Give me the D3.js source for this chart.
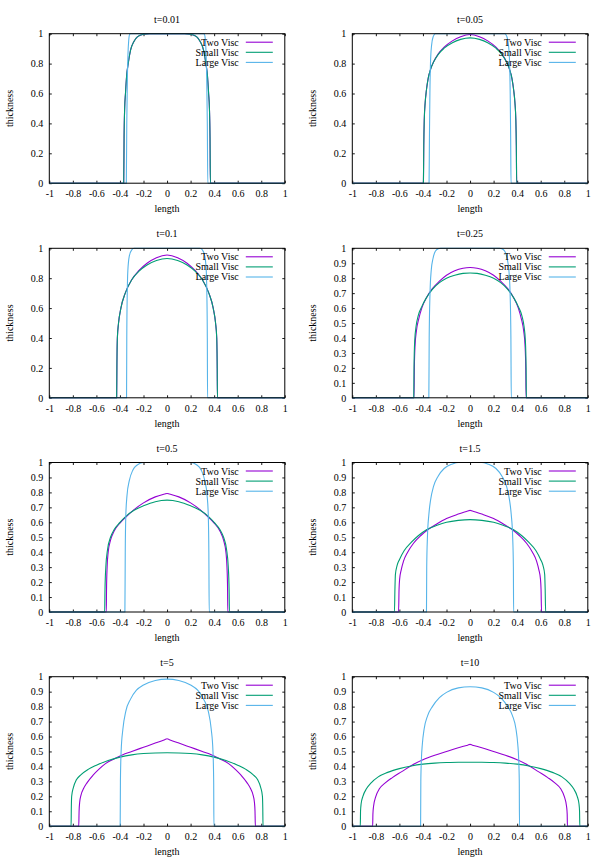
<!DOCTYPE html>
<html>
<head>
<meta charset="utf-8">
<script src="https://cdn.jsdelivr.net/npm/d3@7"></script>
<style>
  html, body { margin: 0; padding: 0; background: #ffffff; }
  svg { display: block; }
  text { font-family: "Liberation Serif", "Times New Roman", serif; font-size: 10px; fill: #000; }
</style>
</head>
<body>
<div id="chart"></div>
<script>
// ---------------- DATA ----------------
const times = ["0.01", "0.05", "0.1", "0.25", "0.5", "1.5", "5", "10"];
const seriesNames = ["Two Visc", "Small Visc", "Large Visc"];
const seriesColors = ["#9400D3", "#009E73", "#56B4E9"];
const xTickValues = [-1, -0.8, -0.6, -0.4, -0.2, 0, 0.2, 0.4, 0.6, 0.8, 1];
const xTickLabels = ["-1", "-0.8", "-0.6", "-0.4", "-0.2", "0", "0.2", "0.4", "0.6", "0.8", "1"];
const yTickCoarse = [0, 0.2, 0.4, 0.6, 0.8, 1];
const yTickCoarseLabels = ["0", "0.2", "0.4", "0.6", "0.8", "1"];
const yTickFine = [0, 0.1, 0.2, 0.3, 0.4, 0.5, 0.6, 0.7, 0.8, 0.9, 1];
const yTickFineLabels = ["0", "0.1", "0.2", "0.3", "0.4", "0.5", "0.6", "0.7", "0.8", "0.9", "1"];
const fineTickPanels = [false, false, false, true, true, true, true, true];

// t = 0.01
const t001_two = [[-1,0],[-0.368,0],[-0.365,0.3],[-0.36,0.5],[-0.353,0.6],[-0.343,0.72],[-0.33,0.8],[-0.31,0.89],[-0.28,0.95],[-0.25,0.98],[-0.2,0.996],[-0.15,1],[0.15,1],[0.2,0.996],[0.25,0.98],[0.28,0.95],[0.31,0.89],[0.33,0.8],[0.343,0.72],[0.353,0.6],[0.36,0.5],[0.365,0.3],[0.368,0],[1,0]];
const t001_small = [[-1,0],[-0.368,0],[-0.365,0.3],[-0.36,0.5],[-0.353,0.6],[-0.343,0.72],[-0.33,0.8],[-0.31,0.89],[-0.28,0.95],[-0.25,0.98],[-0.2,0.996],[-0.15,1],[0.15,1],[0.2,0.996],[0.25,0.98],[0.28,0.95],[0.31,0.89],[0.33,0.8],[0.343,0.72],[0.353,0.6],[0.36,0.5],[0.365,0.3],[0.368,0],[1,0]];
const t001_large = [[-1,0],[-0.346,0],[-0.342,0.4],[-0.337,0.7],[-0.332,0.86],[-0.325,0.96],[-0.318,0.995],[-0.31,1],[0.31,1],[0.318,0.995],[0.325,0.96],[0.332,0.86],[0.337,0.7],[0.342,0.4],[0.346,0],[1,0]];

// t = 0.05
const t005_two = [[-1,0],[-0.396,0],[-0.393,0.25],[-0.389,0.42],[-0.381,0.54],[-0.371,0.62],[-0.356,0.7],[-0.336,0.76],[-0.31,0.81],[-0.27,0.865],[-0.22,0.91],[-0.15,0.952],[-0.08,0.98],[0,0.995],[0.08,0.98],[0.15,0.952],[0.22,0.91],[0.27,0.865],[0.31,0.81],[0.336,0.76],[0.356,0.7],[0.371,0.62],[0.381,0.54],[0.389,0.42],[0.393,0.25],[0.396,0],[1,0]];
const t005_small = [[-1,0],[-0.396,0],[-0.393,0.25],[-0.389,0.42],[-0.381,0.54],[-0.371,0.62],[-0.356,0.7],[-0.336,0.76],[-0.31,0.81],[-0.27,0.862],[-0.22,0.903],[-0.15,0.94],[-0.08,0.962],[0,0.972],[0.08,0.962],[0.15,0.94],[0.22,0.903],[0.27,0.862],[0.31,0.81],[0.336,0.76],[0.356,0.7],[0.371,0.62],[0.381,0.54],[0.389,0.42],[0.393,0.25],[0.396,0],[1,0]];
const t005_large = [[-1,0],[-0.348,0],[-0.345,0.3],[-0.341,0.6],[-0.336,0.8],[-0.327,0.92],[-0.313,0.98],[-0.295,1],[0.295,1],[0.313,0.98],[0.327,0.92],[0.336,0.8],[0.341,0.6],[0.345,0.3],[0.348,0],[1,0]];

// t = 0.1
const t01_two = [[-1,0],[-0.428,0],[-0.426,0.2],[-0.422,0.4],[-0.412,0.5],[-0.392,0.6],[-0.355,0.7],[-0.3,0.79],[-0.24,0.85],[-0.17,0.9],[-0.09,0.937],[0,0.955],[0.09,0.937],[0.17,0.9],[0.24,0.85],[0.3,0.79],[0.355,0.7],[0.392,0.6],[0.412,0.5],[0.422,0.4],[0.426,0.2],[0.428,0],[1,0]];
const t01_small = [[-1,0],[-0.428,0],[-0.426,0.2],[-0.422,0.4],[-0.412,0.5],[-0.392,0.6],[-0.355,0.7],[-0.3,0.79],[-0.24,0.845],[-0.17,0.888],[-0.09,0.918],[0,0.932],[0.09,0.918],[0.17,0.888],[0.24,0.845],[0.3,0.79],[0.355,0.7],[0.392,0.6],[0.412,0.5],[0.422,0.4],[0.426,0.2],[0.428,0],[1,0]];
const t01_large = [[-1,0],[-0.344,0],[-0.342,0.4],[-0.338,0.7],[-0.333,0.85],[-0.32,0.95],[-0.3,0.99],[-0.28,1],[0.28,1],[0.3,0.99],[0.32,0.95],[0.333,0.85],[0.338,0.7],[0.342,0.4],[0.344,0],[1,0]];

// t = 0.25
const t025_two = [[-1,0],[-0.476,0],[-0.473,0.2],[-0.467,0.35],[-0.455,0.45],[-0.435,0.53],[-0.41,0.6],[-0.37,0.67],[-0.32,0.73],[-0.26,0.78],[-0.2,0.82],[-0.13,0.85],[-0.06,0.867],[0,0.872],[0.06,0.867],[0.13,0.85],[0.2,0.82],[0.26,0.78],[0.32,0.73],[0.37,0.67],[0.41,0.6],[0.435,0.53],[0.455,0.45],[0.467,0.35],[0.473,0.2],[0.476,0],[1,0]];
const t025_small = [[-1,0],[-0.478,0],[-0.476,0.2],[-0.47,0.38],[-0.458,0.48],[-0.44,0.55],[-0.41,0.61],[-0.37,0.67],[-0.32,0.725],[-0.26,0.77],[-0.2,0.8],[-0.13,0.82],[-0.06,0.832],[0,0.835],[0.06,0.832],[0.13,0.82],[0.2,0.8],[0.26,0.77],[0.32,0.725],[0.37,0.67],[0.41,0.61],[0.44,0.55],[0.458,0.48],[0.47,0.38],[0.476,0.2],[0.478,0],[1,0]];
const t025_large = [[-1,0],[-0.35,0],[-0.347,0.4],[-0.34,0.7],[-0.33,0.85],[-0.315,0.93],[-0.295,0.98],[-0.27,0.997],[-0.25,1],[0.25,1],[0.27,0.997],[0.295,0.98],[0.315,0.93],[0.33,0.85],[0.34,0.7],[0.347,0.4],[0.35,0],[1,0]];

// t = 0.5
const t05_two = [[-1,0],[-0.516,0],[-0.514,0.15],[-0.509,0.3],[-0.5,0.4],[-0.48,0.48],[-0.45,0.54],[-0.4,0.595],[-0.35,0.635],[-0.28,0.685],[-0.2,0.73],[-0.1,0.77],[-0.02,0.789],[0,0.793],[0.02,0.789],[0.1,0.77],[0.2,0.73],[0.28,0.685],[0.35,0.635],[0.4,0.595],[0.45,0.54],[0.48,0.48],[0.5,0.4],[0.509,0.3],[0.514,0.15],[0.516,0],[1,0]];
const t05_small = [[-1,0],[-0.53,0],[-0.527,0.15],[-0.52,0.3],[-0.505,0.42],[-0.48,0.5],[-0.45,0.55],[-0.4,0.6],[-0.35,0.64],[-0.28,0.68],[-0.2,0.71],[-0.1,0.738],[0,0.748],[0.1,0.738],[0.2,0.71],[0.28,0.68],[0.35,0.64],[0.4,0.6],[0.45,0.55],[0.48,0.5],[0.505,0.42],[0.52,0.3],[0.527,0.15],[0.53,0],[1,0]];
const t05_large = [[-1,0],[-0.358,0],[-0.355,0.4],[-0.35,0.65],[-0.34,0.78],[-0.32,0.88],[-0.29,0.95],[-0.25,0.985],[-0.2,1],[0.2,1],[0.25,0.985],[0.29,0.95],[0.32,0.88],[0.34,0.78],[0.35,0.65],[0.355,0.4],[0.358,0],[1,0]];

// t = 1.5
const t15_two = [[-1,0],[-0.607,0],[-0.603,0.15],[-0.598,0.22],[-0.585,0.28],[-0.565,0.34],[-0.53,0.4],[-0.48,0.46],[-0.42,0.51],[-0.36,0.55],[-0.28,0.59],[-0.2,0.625],[-0.1,0.655],[-0.02,0.675],[0,0.68],[0.02,0.675],[0.1,0.655],[0.2,0.625],[0.28,0.59],[0.36,0.55],[0.42,0.51],[0.48,0.46],[0.53,0.4],[0.565,0.34],[0.585,0.28],[0.598,0.22],[0.603,0.15],[0.607,0],[1,0]];
const t15_small = [[-1,0],[-0.642,0],[-0.638,0.15],[-0.634,0.25],[-0.62,0.31],[-0.6,0.35],[-0.56,0.41],[-0.5,0.465],[-0.44,0.51],[-0.37,0.55],[-0.28,0.58],[-0.2,0.6],[-0.1,0.613],[0,0.618],[0.1,0.613],[0.2,0.6],[0.28,0.58],[0.37,0.55],[0.44,0.51],[0.5,0.465],[0.56,0.41],[0.6,0.35],[0.62,0.31],[0.634,0.25],[0.638,0.15],[0.642,0],[1,0]];
const t15_large = [[-1,0],[-0.37,0],[-0.368,0.3],[-0.362,0.5],[-0.35,0.65],[-0.335,0.75],[-0.31,0.84],[-0.27,0.91],[-0.22,0.96],[-0.15,0.99],[-0.1,1],[0.1,1],[0.15,0.99],[0.22,0.96],[0.27,0.91],[0.31,0.84],[0.335,0.75],[0.35,0.65],[0.362,0.5],[0.368,0.3],[0.37,0],[1,0]];

// t = 5
const t5_two = [[-1,0],[-0.75,0],[-0.747,0.1],[-0.742,0.16],[-0.73,0.21],[-0.71,0.25],[-0.68,0.29],[-0.63,0.34],[-0.58,0.38],[-0.52,0.42],[-0.45,0.45],[-0.38,0.477],[-0.3,0.5],[-0.2,0.528],[-0.1,0.556],[-0.02,0.579],[0,0.585],[0.02,0.579],[0.1,0.556],[0.2,0.528],[0.3,0.5],[0.38,0.477],[0.45,0.45],[0.52,0.42],[0.58,0.38],[0.63,0.34],[0.68,0.29],[0.71,0.25],[0.73,0.21],[0.742,0.16],[0.747,0.1],[0.75,0],[1,0]];
const t5_small = [[-1,0],[-0.815,0],[-0.813,0.12],[-0.81,0.2],[-0.795,0.26],[-0.77,0.31],[-0.73,0.345],[-0.67,0.38],[-0.6,0.408],[-0.5,0.44],[-0.4,0.462],[-0.3,0.477],[-0.2,0.486],[-0.1,0.49],[0,0.491],[0.1,0.49],[0.2,0.486],[0.3,0.477],[0.4,0.462],[0.5,0.44],[0.6,0.408],[0.67,0.38],[0.73,0.345],[0.77,0.31],[0.795,0.26],[0.81,0.2],[0.813,0.12],[0.815,0],[1,0]];
const t5_large = [[-1,0],[-0.398,0],[-0.396,0.3],[-0.39,0.5],[-0.375,0.65],[-0.35,0.77],[-0.31,0.85],[-0.26,0.91],[-0.2,0.945],[-0.1,0.975],[0,0.984],[0.1,0.975],[0.2,0.945],[0.26,0.91],[0.31,0.85],[0.35,0.77],[0.375,0.65],[0.39,0.5],[0.396,0.3],[0.398,0],[1,0]];

// t = 10
const t10_two = [[-1,0],[-0.827,0],[-0.825,0.08],[-0.82,0.13],[-0.8,0.2],[-0.77,0.25],[-0.72,0.29],[-0.66,0.325],[-0.58,0.365],[-0.5,0.405],[-0.4,0.445],[-0.3,0.475],[-0.2,0.5],[-0.1,0.525],[-0.02,0.542],[0,0.547],[0.02,0.542],[0.1,0.525],[0.2,0.5],[0.3,0.475],[0.4,0.445],[0.5,0.405],[0.58,0.365],[0.66,0.325],[0.72,0.29],[0.77,0.25],[0.8,0.2],[0.82,0.13],[0.825,0.08],[0.827,0],[1,0]];
const t10_small = [[-1,0],[-0.932,0],[-0.93,0.1],[-0.925,0.15],[-0.91,0.2],[-0.88,0.25],[-0.84,0.29],[-0.78,0.33],[-0.7,0.36],[-0.6,0.385],[-0.5,0.403],[-0.4,0.415],[-0.3,0.422],[-0.2,0.426],[-0.1,0.428],[0,0.428],[0.1,0.428],[0.2,0.426],[0.3,0.422],[0.4,0.415],[0.5,0.403],[0.6,0.385],[0.7,0.36],[0.78,0.33],[0.84,0.29],[0.88,0.25],[0.91,0.2],[0.925,0.15],[0.93,0.1],[0.932,0],[1,0]];
const t10_large = [[-1,0],[-0.42,0],[-0.418,0.3],[-0.413,0.45],[-0.405,0.55],[-0.39,0.65],[-0.36,0.74],[-0.32,0.8],[-0.26,0.86],[-0.2,0.895],[-0.1,0.925],[0,0.933],[0.1,0.925],[0.2,0.895],[0.26,0.86],[0.32,0.8],[0.36,0.74],[0.39,0.65],[0.405,0.55],[0.413,0.45],[0.418,0.3],[0.42,0],[1,0]];

const panelSeries = [
  [t001_two, t001_small, t001_large],
  [t005_two, t005_small, t005_large],
  [t01_two, t01_small, t01_large],
  [t025_two, t025_small, t025_large],
  [t05_two, t05_small, t05_large],
  [t15_two, t15_small, t15_large],
  [t5_two, t5_small, t5_large],
  [t10_two, t10_small, t10_large]
];

// ---------------- LAYOUT ----------------
const W = 596, H = 862;
const colLeft = [49.3, 352.3];
const plotW = 235.5;
const rowTop = [33.7, 248.3, 462.5, 676.7];
const plotH = 149.5;
const FONT = "'Liberation Serif', 'Times New Roman', serif";

const svg = d3.select("#chart").append("svg")
  .attr("width", W).attr("height", H)
  .attr("viewBox", `0 0 ${W} ${H}`);
svg.append("rect").attr("width", W).attr("height", H).attr("fill", "#fff");

times.forEach((t, i) => {
  const col = i % 2, row = Math.floor(i / 2);
  const L = colLeft[col], T = rowTop[row];
  const g = svg.append("g").attr("transform", `translate(${L},${T})`)
    .style("font-family", FONT).style("font-size", "10px");

  const x = d3.scaleLinear().domain([-1, 1]).range([0, plotW]);
  const y = d3.scaleLinear().domain([0, 1]).range([plotH, 0]);

  const fine = fineTickPanels[i];
  const yVals = fine ? yTickFine : yTickCoarse;
  const yLabs = fine ? yTickFineLabels : yTickCoarseLabels;
  const tickLen = 2.5;

  const styleAxis = (sel) => {
    sel.attr("font-family", null).attr("font-size", null);
    sel.select(".domain").remove();
    sel.selectAll("line").attr("stroke", "#000").attr("stroke-width", 0.9);
    sel.selectAll("text").style("font-family", FONT).style("font-size", "10px").attr("fill", "#000");
  };

  // bottom axis (ticks inward) + labels
  const xAxisB = d3.axisBottom(x).tickValues(xTickValues)
    .tickFormat((d, k) => xTickLabels[k]).tickSizeInner(-tickLen).tickSizeOuter(0).tickPadding(7);
  g.append("g").attr("transform", `translate(0,${plotH})`).call(xAxisB).call(styleAxis);

  // top mirror ticks
  const xAxisT = d3.axisTop(x).tickValues(xTickValues).tickFormat("").tickSizeInner(-tickLen).tickSizeOuter(0);
  g.append("g").call(xAxisT).call(styleAxis);

  // left axis
  const yAxisL = d3.axisLeft(y).tickValues(yVals)
    .tickFormat((d, k) => yLabs[k]).tickSizeInner(-tickLen).tickSizeOuter(0).tickPadding(6);
  g.append("g").call(yAxisL).call(styleAxis);

  // right mirror ticks
  const yAxisR = d3.axisRight(y).tickValues(yVals).tickFormat("").tickSizeInner(-tickLen).tickSizeOuter(0);
  g.append("g").attr("transform", `translate(${plotW},0)`).call(yAxisR).call(styleAxis);

  // curves
  const line = d3.line().x(d => x(d[0])).y(d => y(d[1])).curve(d3.curveMonotoneX);
  panelSeries[i].forEach((data, s) => {
    g.append("path").datum(data)
      .attr("d", line)
      .attr("fill", "none")
      .attr("stroke", seriesColors[s])
      .attr("stroke-width", 1.1)
      .attr("stroke-linejoin", "round");
  });

  // frame
  g.append("rect").attr("x", 0).attr("y", 0).attr("width", plotW).attr("height", plotH)
    .attr("fill", "none").attr("stroke", "#000").attr("stroke-width", 1);

  // legend
  seriesNames.forEach((name, s) => {
    const ly = 8.5 + s * 10.1;
    g.append("text").attr("x", plotW - 46).attr("y", ly + 3.5)
      .attr("text-anchor", "end").text(name);
    g.append("line").attr("x1", plotW - 39).attr("x2", plotW - 12)
      .attr("y1", ly).attr("y2", ly)
      .attr("stroke", seriesColors[s]).attr("stroke-width", 1.1);
  });

  // title
  g.append("text").attr("x", plotW / 2).attr("y", -11)
    .attr("text-anchor", "middle").text("t=" + t);

  // axis labels
  g.append("text").attr("x", plotW / 2).attr("y", plotH + 29)
    .attr("text-anchor", "middle").text("length");
  g.append("text")
    .attr("transform", `translate(${-36},${plotH / 2}) rotate(-90)`)
    .attr("text-anchor", "middle").text("thickness");
});
</script>
</body>
</html>
